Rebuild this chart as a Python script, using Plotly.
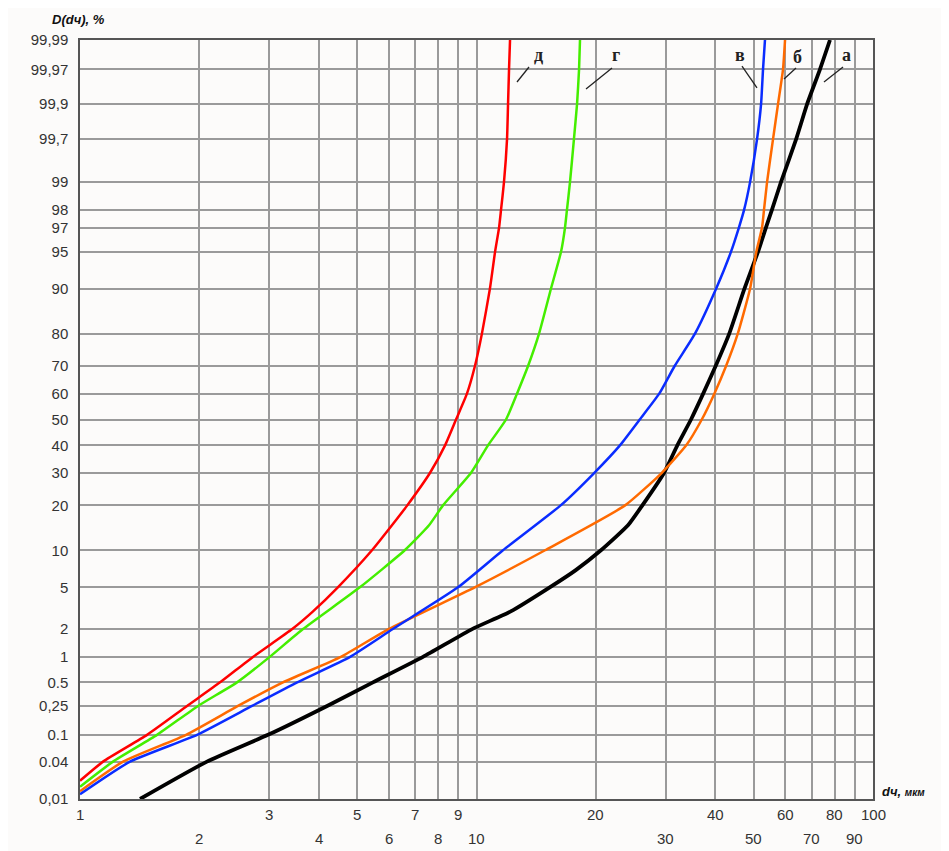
import math
from statistics import NormalDist
import plotly.graph_objects as go

# ---------------- data (d in µm, D in %) ----------------
# curve а (black)
d_a = [1.417, 2.09, 2.98, 4.20, 5.48, 7.33, 9.75, 12.2, 15.3, 17.8, 20.6, 24.1, 26.2, 29.7,
       32.1, 34.75, 37.3, 40.1, 43.4, 47.4, 51.3, 53.7, 55.6, 58.6, 64.0, 68.2, 73.5, 77.9]
D_a = [0.01, 0.04, 0.1, 0.25, 0.5, 1, 2, 3, 5, 7, 10, 15, 20, 30,
       40, 50, 60, 70, 80, 90, 95, 97, 98, 99, 99.7, 99.9, 99.97, 99.99]

# curve б (orange)
d_b = [1.0, 1.284, 1.851, 2.503, 3.25, 4.55, 6.0, 9.9, 14.89, 23.7, 29.3, 33.8, 37.0,
       39.8, 42.6, 45.6, 48.97, 50.8, 52.5, 53.1, 54.05, 55.96, 57.6, 59.3, 60.0]
D_b = [0.0135, 0.04, 0.1, 0.25, 0.5, 1, 2, 5, 10, 20, 30, 40, 50,
       60, 70, 80, 90, 95, 97, 98, 99, 99.7, 99.9, 99.97, 99.99]

# curve в (blue)
d_v = [1.0, 1.337, 1.973, 2.716, 3.53, 4.80, 6.15, 8.98, 11.66, 16.3, 19.8, 23.0, 25.8,
       28.9, 31.6, 35.57, 40.2, 43.85, 45.9, 47.3, 48.97, 51.0, 52.2, 52.8, 53.4]
D_v = [0.012, 0.04, 0.1, 0.25, 0.5, 1, 2, 5, 10, 20, 30, 40, 50,
       60, 70, 80, 90, 95, 97, 98, 99, 99.7, 99.9, 99.97, 99.99]

# curve г (green)
d_g = [1.0, 1.211, 1.564, 1.985, 2.489, 3.01, 3.65, 5.08, 6.59, 7.59, 8.23, 9.68, 10.69,
       11.87, 12.65, 13.49, 14.38, 15.41, 16.34, 16.72, 16.91, 17.21, 17.61, 17.93, 18.14,
       18.24]
D_g = [0.016, 0.04, 0.1, 0.25, 0.5, 1, 2, 5, 10, 15, 20, 30, 40,
       50, 60, 70, 80, 90, 95, 97, 98, 99, 99.7, 99.9, 99.97,
       99.99]

# curve д (red)
d_d = [1.0, 1.143, 1.476, 1.862, 2.256, 2.73, 3.43, 3.87, 4.47, 5.45, 6.12, 6.69, 7.63,
       8.33, 8.88, 9.46, 9.91, 10.32, 10.81, 11.14, 11.40, 11.53, 11.73, 11.94, 12.01,
       12.08, 12.15]
D_d = [0.02, 0.04, 0.1, 0.25, 0.5, 1, 2, 3, 5, 10, 15, 20, 30,
       40, 50, 60, 70, 80, 90, 95, 97, 98, 99, 99.7, 99.9,
       99.97, 99.99]

curve_names = ["а", "б", "в", "г", "д"]
curve_colors = ["#000000", "#ff6a00", "#0a2cff", "#44ee00", "#ff0000"]

# y ticks (probability scale)
y_tick_values = [0.01, 0.04, 0.1, 0.25, 0.5, 1, 2, 5, 10, 20, 30, 40, 50, 60, 70,
                 80, 90, 95, 97, 98, 99, 99.7, 99.9, 99.97, 99.99]
y_tick_text = ["0,01", "0.04", "0.1", "0,25", "0.5", "1", "2", "5", "10", "20", "30",
               "40", "50", "60", "70", "80", "90", "95", "97", "98", "99", "99,7",
               "99,9", "99,97", "99,99"]

# x ticks (log scale), two label rows
x_grid_values = [1, 2, 3, 4, 5, 6, 7, 8, 9, 10, 20, 30, 40, 50, 60, 70, 80, 90, 100]
x_labels_top = [1, 3, 5, 7, 9, 20, 40, 60, 80, 100]
x_labels_bottom = [2, 4, 6, 8, 10, 30, 50, 70, 90]

# ---------------- figure ----------------
ND = NormalDist()


def probit(p_percent):
    return ND.inv_cdf(p_percent / 100.0)


fig = go.Figure()
series = [(d_a, D_a), (d_b, D_b), (d_v, D_v), (d_g, D_g), (d_d, D_d)]
widths = [3.8, 2.5, 2.5, 2.5, 2.5]
for (dx, Dy), name, col, w in zip(series, curve_names, curve_colors, widths):
    fig.add_trace(go.Scatter(
        x=dx, y=[probit(v) for v in Dy], mode="lines", name=name,
        line=dict(color=col, width=w, shape="spline", smoothing=0.5), showlegend=False))

ymin = probit(y_tick_values[0])
ymax = probit(y_tick_values[-1])

tick_font = dict(family="Liberation Sans, Arial", size=15, color="#333333")

fig.update_xaxes(
    type="log", range=[0, 2], tickvals=x_grid_values, showticklabels=False,
    showgrid=True, gridcolor="#9a9a9a", gridwidth=1.5, ticks="",
    showline=True, linecolor="#555555", linewidth=1.5, mirror=True, zeroline=False)
fig.update_yaxes(
    type="linear", range=[ymin, ymax], tickvals=[probit(v) for v in y_tick_values],
    ticktext=y_tick_text, showgrid=True, gridcolor="#9a9a9a", gridwidth=1.5, ticks="",
    ticklabelstandoff=7, tickfont=tick_font,
    showline=True, linecolor="#555555", linewidth=1.5, mirror=True, zeroline=False)

annotations = []
for v in x_labels_top:
    annotations.append(dict(x=math.log10(v), y=-0.021, xref="x", yref="paper",
                            text=str(v), showarrow=False, xanchor="center", yanchor="middle",
                            font=tick_font))
for v in x_labels_bottom:
    annotations.append(dict(x=math.log10(v), y=-0.0515, xref="x", yref="paper",
                            text=str(v), showarrow=False, xanchor="center", yanchor="middle",
                            font=tick_font))

# axis titles
annotations.append(dict(x=-0.038, y=1.027, xref="paper", yref="paper",
                        text="<b><i>D(dч), %</i></b>", showarrow=False,
                        xanchor="left", yanchor="middle",
                        font=dict(family="Liberation Sans, Arial", size=13, color="#111111")))
annotations.append(dict(x=1.009, y=0.0105, xref="paper", yref="paper",
                        text="<b><i>dч, <span style='font-size:10px'>мкм</span></i></b>",
                        showarrow=False, xanchor="left", yanchor="middle",
                        font=dict(family="Liberation Sans, Arial", size=13, color="#111111")))

# curve labels
label_pos = {"д": (0.5776, 0.980), "г": (0.6759, 0.980), "в": (0.8323, 0.980),
             "б": (0.9054, 0.9776), "а": (0.9672, 0.980)}
for name, (px, py) in label_pos.items():
    annotations.append(dict(x=px, y=py, xref="paper", yref="paper", text="<b>" + name + "</b>",
                            showarrow=False, xanchor="center", yanchor="middle",
                            font=dict(family="Liberation Serif, DejaVu Serif", size=18,
                                      color="#222222")))

shapes = []
leaders = [(0.5662, 0.9644, 0.5511, 0.9447),
           (0.6709, 0.9631, 0.6381, 0.9354),
           (0.8348, 0.9657, 0.8537, 0.9368),
           (0.9029, 0.9631, 0.8878, 0.9486),
           (0.9622, 0.9644, 0.9382, 0.9447)]
for x0, y0, x1, y1 in leaders:
    shapes.append(dict(type="line", xref="paper", yref="paper", x0=x0, y0=y0, x1=x1, y1=y1,
                       line=dict(color="#222222", width=1.3)))

# page body has an 8px default margin, so the figure is sized to fit the window
fig.update_layout(
    width=941, height=843,
    margin=dict(l=72, r=76, t=32, b=52),
    paper_bgcolor="#fcfbfa", plot_bgcolor="#fcfbfa",
    annotations=annotations, shapes=shapes,
    font=dict(family="Liberation Sans, Arial", size=13, color="#333333"),
)

fig.write_html("out.html")
